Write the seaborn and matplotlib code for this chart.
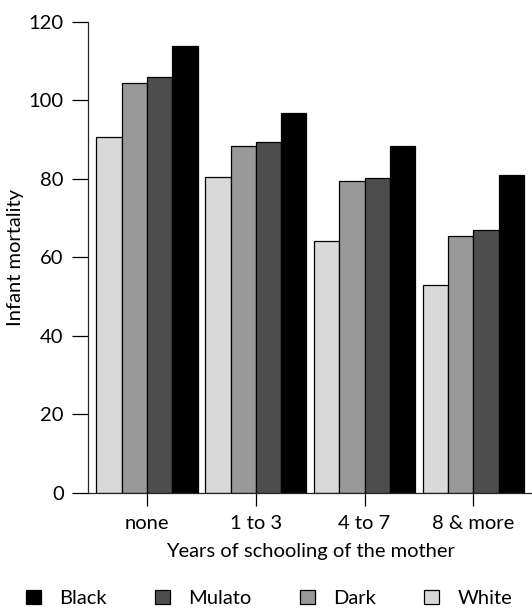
import pandas as pd
import seaborn as sns
import matplotlib
matplotlib.use("Agg")
import matplotlib.pyplot as plt
from matplotlib.patches import Patch

schooling = ["none", "1 to 3", "4 to 7", "8 & more"]
groups = ["White", "Dark", "Mulato", "Black"]
white = [90.8, 80.6, 64.3, 53.0]
dark = [104.4, 88.4, 79.4, 65.5]
mulato = [106.0, 89.4, 80.2, 66.9]
black = [113.9, 96.9, 88.4, 81.0]

colors = {"White": "#d9d9d9", "Dark": "#999999", "Mulato": "#4d4d4d", "Black": "#000000"}

rows = []
for name, vals in zip(groups, [white, dark, mulato, black]):
    for s, v in zip(schooling, vals):
        rows.append({"Schooling": s, "Group": name, "Mortality": v})
df = pd.DataFrame(rows)

sns.set_style("ticks")
plt.rcParams['font.family'] = ['Lato', 'DejaVu Sans']
plt.rcParams['text.color'] = 'black'
fs = 14.5

fig = plt.figure(figsize=(5.32, 6.09), dpi=100)
ax = fig.add_axes([0.1654, 0.1905, 0.8346, 0.7734])

sns.barplot(data=df, x="Schooling", y="Mortality", hue="Group", order=schooling,
            hue_order=groups, palette=colors, width=0.93, edgecolor="black",
            linewidth=0.9, ax=ax, legend=False)

ax.set_xlim(-0.543, 3.54)
ax.set_ylim(0, 120)
ax.set_yticks([0, 20, 40, 60, 80, 100, 120])
ax.spines["top"].set_visible(False)
ax.spines["right"].set_visible(False)
ax.spines["left"].set_bounds(0, 120)
for sp in ["left", "bottom"]:
    ax.spines[sp].set_linewidth(0.9)
ax.tick_params(axis="y", length=11.5, width=0.9, pad=6, labelsize=fs, colors="black")
ax.tick_params(axis="x", length=9.5, width=0.9, pad=6, labelsize=fs, colors="black")
ax.set_xlabel("Years of schooling of the mother", fontsize=fs, labelpad=8, color="black")
ax.set_ylabel("Infant mortality", fontsize=fs, labelpad=3, color="black")

handles = [Patch(facecolor=colors[g], edgecolor="black", linewidth=0.9) for g in groups[::-1]]
fig.legend(handles, groups[::-1], ncol=4, loc="lower left", bbox_to_anchor=(0.045, 0.0),
           frameon=False, fontsize=fs, handlelength=0.75, handleheight=0.75,
           handletextpad=0.9, columnspacing=2.4, borderaxespad=0, borderpad=0.1,
           labelcolor="black")

fig.savefig("out.png", dpi=100)
